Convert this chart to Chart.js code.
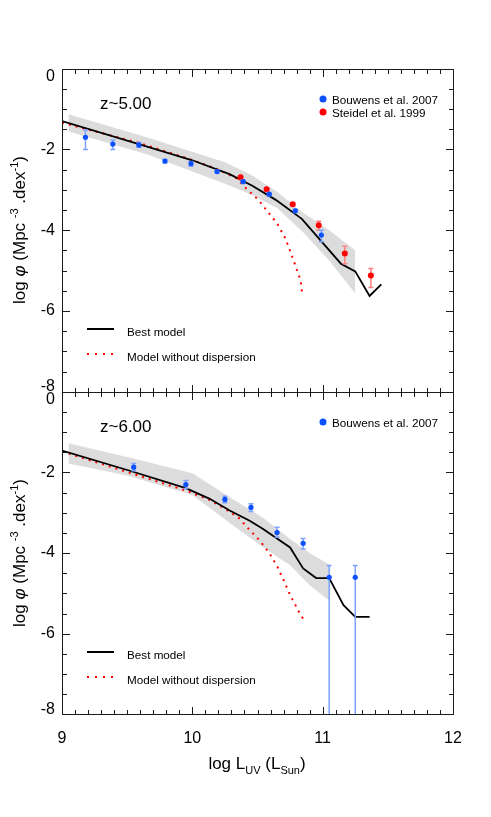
<!DOCTYPE html>
<html>
<head>
<meta charset="utf-8">
<script src="https://cdn.jsdelivr.net/npm/chart.js@4.4.0/dist/chart.umd.min.js"></script>
<style>
  body { margin: 0; background: #fff; font-family: "Liberation Sans", Arial, sans-serif; }
  #wrap { position: relative; width: 491px; height: 817px; overflow: hidden; }
  canvas { position: absolute; left: 0; top: 0; }
  .txt { position: absolute; white-space: nowrap; color: #000; transform: translateY(-50%); }
  .ztag { font-size: 17px; }
  .leg { font-size: 11.7px; }
  .dot { position: absolute; width: 7px; height: 7px; border-radius: 50%; transform: translate(-50%, -50%); }
  .solid { position: absolute; width: 27px; height: 2px; background: #000; transform: translateY(-50%); }
  .dotted { position: absolute; width: 27px; height: 2px; transform: translateY(-50%);
    background: repeating-linear-gradient(to right, #ff0000 0 2px, transparent 2px 8px); }
  .ytitle { position: absolute; white-space: nowrap; font-size: 17px;
    transform: translate(-50%, -50%) rotate(-90deg); }
  .xtitle { position: absolute; white-space: nowrap; font-size: 17px; transform: translate(-50%, -50%); }
  sup, sub { font-size: 11px; }
</style>
</head>
<body>
<div id="wrap">
  <canvas id="top" width="491" height="817"></canvas>
  <canvas id="bottom" width="491" height="817"></canvas>
  <canvas id="axes" width="491" height="817"></canvas>
  <div id="text"></div>
</div>
<script>
const FONT = '"Liberation Sans", Arial, sans-serif';

const xTicks = [9, 10, 11, 12];
const yTicks = [0, -2, -4, -6, -8];

// ---- z ~ 5 panel ----
const z5ModelX = [9.0, 9.57, 10.0, 10.29, 10.46, 10.64, 10.84, 11.14, 11.25, 11.36, 11.45];
const z5ModelY = [-1.30, -1.85, -2.27, -2.62, -2.90, -3.25, -3.72, -4.83, -5.02, -5.63, -5.34];
const z5NoDispX = [9.0, 9.57, 9.96, 10.2, 10.34, 10.42, 10.51, 10.58, 10.65, 10.71, 10.75, 10.79, 10.83, 10.845];
const z5NoDispY = [-1.34, -1.82, -2.22, -2.50, -2.72, -2.99, -3.26, -3.55, -3.83, -4.18, -4.51, -4.87, -5.24, -5.62];
const z5BandX = [9.05, 9.65, 10.25, 10.45, 10.65, 10.85, 11.05, 11.25];
const z5BandHi = [-1.13, -1.70, -2.32, -2.63, -3.05, -3.57, -4.00, -4.50];
const z5BandLo = [-1.56, -2.12, -2.85, -3.12, -3.45, -4.05, -4.75, -5.57];

const z5BouwensX = [9.18, 9.39, 9.59, 9.79, 9.99, 10.19, 10.39, 10.59, 10.79, 10.99];
const z5BouwensY = [-1.70, -1.87, -1.89, -2.29, -2.35, -2.55, -2.80, -3.11, -3.52, -4.12];
const z5BouwensHi = [-1.52, -1.77, -1.83, -2.25, -2.30, -2.51, -2.76, -3.07, -3.48, -4.00];
const z5BouwensLo = [-2.00, -2.00, -1.95, -2.34, -2.42, -2.59, -2.84, -3.15, -3.56, -4.29];

const z5SteidelX = [10.37, 10.57, 10.77, 10.97, 11.17, 11.37];
const z5SteidelY = [-2.69, -2.99, -3.36, -3.88, -4.58, -5.12];
const z5SteidelHi = [-2.65, -2.95, -3.32, -3.78, -4.40, -4.95];
const z5SteidelLo = [-2.73, -3.03, -3.40, -4.00, -4.83, -5.42];

// ---- z ~ 6 panel ----
const z6ModelX = [9.0, 9.52, 9.95, 10.13, 10.29, 10.44, 10.54, 10.75, 10.85, 10.95, 11.05, 11.16, 11.25, 11.36];
const z6ModelY = [-1.46, -1.96, -2.39, -2.65, -2.95, -3.20, -3.40, -3.86, -4.38, -4.62, -4.62, -5.29, -5.58, -5.58];
const z6NoDispX = [9.0, 9.52, 9.95, 10.13, 10.26, 10.36, 10.44, 10.52, 10.59, 10.65, 10.70, 10.75, 10.81, 10.85];
const z6NoDispY = [-1.48, -2.01, -2.45, -2.68, -2.92, -3.14, -3.43, -3.70, -4.00, -4.32, -4.67, -5.04, -5.41, -5.63];
const z6BandX = [9.05, 9.5, 10.0, 10.29, 10.54, 10.75, 10.9, 11.06];
const z6BandHi = [-1.28, -1.62, -2.02, -2.62, -3.12, -3.65, -4.00, -4.30];
const z6BandLo = [-1.78, -2.08, -2.56, -3.26, -3.85, -4.30, -4.80, -5.20];

const z6BouwensX = [9.55, 9.95, 10.25, 10.45, 10.65, 10.85, 11.05, 11.25];
const z6BouwensY = [-1.87, -2.30, -2.67, -2.87, -3.49, -3.76, -4.60, -4.60];
const z6BouwensHi = [-1.78, -2.20, -2.59, -2.78, -3.36, -3.64, -4.31, -4.31];
const z6BouwensLo = [-1.96, -2.40, -2.75, -2.97, -3.61, -3.90, -9.00, -9.00];

const BLUE = '#0a50ff', BLUE_ERR = '#7ea2ff';
const RED = '#ff0000', RED_ERR = '#ff8080';
const BAND = '#dcdcdc';

function xy(xs, ys) { return xs.map((x, i) => ({ x: x, y: ys[i] })); }

// error bars drawn right before the points of a dataset
const errorBars = {
  id: 'errorBars',
  beforeDatasetDraw(chart, args) {
    const ds = chart.data.datasets[args.index];
    if (!ds.errHi) return;
    const { ctx, chartArea: a, scales: { x, y } } = chart;
    ctx.save();
    ctx.beginPath();
    ctx.rect(a.left, a.top, a.right - a.left, a.bottom - a.top);
    ctx.clip();
    ctx.strokeStyle = ds.errColor;
    ctx.lineWidth = 1.5;
    ds.data.forEach((p, i) => {
      const px = x.getPixelForValue(p.x);
      const top = y.getPixelForValue(ds.errHi[i]);
      const bot = y.getPixelForValue(ds.errLo[i]);
      ctx.beginPath();
      ctx.moveTo(px, top); ctx.lineTo(px, bot);
      ctx.moveTo(px - 2.5, top); ctx.lineTo(px + 2.5, top);
      ctx.moveTo(px - 2.5, bot); ctx.lineTo(px + 2.5, bot);
      ctx.stroke();
    });
    ctx.restore();
  }
};

// box with inward ticks on all four sides, drawn on the overlay canvas
// (tick spacing taken straight from the chart area: 0.1 dex in x, 0.5 in y)
function drawFrame(ctx, chart) {
  const a = chart.chartArea;
  const L = Math.round(a.left), R = Math.round(a.right);
  const T = Math.round(a.top), B = Math.round(a.bottom);
  const w = a.right - a.left, h = a.bottom - a.top;
  ctx.save();
  ctx.fillStyle = '#1a1a1a';
  for (let i = 0; i <= 30; i++) {
    const px = Math.round(a.left + w * i / 30);
    const len = i % 10 === 0 ? 8 : 5;
    ctx.fillRect(px, T, 1, len);
    ctx.fillRect(px, B - len + 1, 1, len);
  }
  for (let i = 0; i <= 16; i++) {
    const py = Math.round(a.top + h * i / 16);
    const len = i % 4 === 0 ? 8 : 5;
    ctx.fillRect(L, py, len, 1);
    ctx.fillRect(R - len + 1, py, len, 1);
  }
  ctx.fillRect(L, T, R - L + 1, 1);
  ctx.fillRect(L, B, R - L + 1, 1);
  ctx.fillRect(L, T, 1, B - T + 1);
  ctx.fillRect(R, T, 1, B - T + 1);
  ctx.restore();
}

function makePanel(id, p) {
  const datasets = [
    { label: p.pointsLabel, data: xy(p.bx, p.by), errHi: p.bHi, errLo: p.bLo, errColor: BLUE_ERR,
      showLine: false, pointRadius: 2.6, backgroundColor: BLUE, borderWidth: 0, order: 0 },
    { label: 'Best model', data: xy(p.mx, p.my), showLine: true, borderColor: '#000',
      borderWidth: 1.8, pointRadius: 0, order: 2 },
    { label: 'Model without dispersion', data: xy(p.nx, p.ny), showLine: true, borderColor: RED,
      borderWidth: 2, borderDash: [2, 5], pointRadius: 0, order: 3 },
    { label: 'band upper', data: xy(p.bandX, p.bandHi), showLine: true, borderWidth: 0,
      pointRadius: 0, fill: '+1', backgroundColor: BAND, order: 4 },
    { label: 'band lower', data: xy(p.bandX, p.bandLo), showLine: true, borderWidth: 0,
      pointRadius: 0, fill: false, order: 5 }
  ];
  if (p.sx) {
    datasets.push({ label: 'Steidel et al. 1999', data: xy(p.sx, p.sy), errHi: p.sHi, errLo: p.sLo,
      errColor: RED_ERR, showLine: false, pointRadius: 3, backgroundColor: RED, borderWidth: 0, order: 1 });
  }
  return new Chart(document.getElementById(id), {
    type: 'scatter',
    data: { datasets: datasets },
    plugins: [errorBars],
    options: {
      responsive: false,
      animation: false,
      devicePixelRatio: 1,
      events: [],
      layout: { padding: p.pad },
      plugins: { legend: { display: false }, tooltip: { enabled: false } },
      scales: {
        x: {
          type: 'linear', min: 9, max: 12,
          afterBuildTicks: (s) => { s.ticks = xTicks.map(v => ({ value: v })); },
          grid: { display: false, drawTicks: false },
          border: { display: false },
          ticks: { display: p.xLabels, padding: 15, color: '#000', font: { family: FONT, size: 16 } },
          afterFit: (s) => { s.height = p.xHeight; }
        },
        y: {
          type: 'linear', min: -8, max: 0,
          afterBuildTicks: (s) => { s.ticks = yTicks.map(v => ({ value: v })); },
          grid: { display: false, drawTicks: false },
          border: { display: false },
          ticks: {
            padding: 7, color: '#000',
            font: (c) => ({ family: FONT, size: 16,
              lineHeight: c.tick && c.tick.value === -8 ? 0.6 : 1.0 }),
            callback: (v) => v === 0 ? ['', '0'] : v === -8 ? ['-8', ''] : String(v)
          },
          afterFit: (s) => { s.width = 62; }
        }
      }
    }
  });
}

const topChart = makePanel('top', {
  pad: { left: 0, right: 38, top: 68.6, bottom: 425.3 }, xLabels: false, xHeight: 0,
  pointsLabel: 'Bouwens et al. 2007',
  bx: z5BouwensX, by: z5BouwensY, bHi: z5BouwensHi, bLo: z5BouwensLo,
  sx: z5SteidelX, sy: z5SteidelY, sHi: z5SteidelHi, sLo: z5SteidelLo,
  mx: z5ModelX, my: z5ModelY, nx: z5NoDispX, ny: z5NoDispY,
  bandX: z5BandX, bandHi: z5BandHi, bandLo: z5BandLo
});

const bottomChart = makePanel('bottom', {
  pad: { left: 0, right: 38, top: 391.7, bottom: 0 }, xLabels: true, xHeight: 102.6,
  pointsLabel: 'Bouwens et al. 2007',
  bx: z6BouwensX, by: z6BouwensY, bHi: z6BouwensHi, bLo: z6BouwensLo,
  mx: z6ModelX, my: z6ModelY, nx: z6NoDispX, ny: z6NoDispY,
  bandX: z6BandX, bandHi: z6BandHi, bandLo: z6BandLo
});

const axesCtx = document.getElementById('axes').getContext('2d');
drawFrame(axesCtx, topChart);
drawFrame(axesCtx, bottomChart);

// text overlays: panel tags, legends, axis titles
const yTitle = 'log <i>φ</i> (Mpc <sup>-3</sup> .dex<sup>-1</sup>)';
let html = '';
[[104, 'z~5.00', 0], [426.7, 'z~6.00', 323.1]].forEach(([ty, tag, off]) => {
  html += `<div class="txt ztag" style="left:100px;top:${ty}px">${tag}</div>`;
  html += `<div class="solid" style="left:87px;top:${329 + off}px"></div>`;
  html += `<div class="txt leg" style="left:127px;top:${331 + off}px">Best model</div>`;
  html += `<div class="dotted" style="left:87px;top:${354 + off}px"></div>`;
  html += `<div class="txt leg" style="left:127px;top:${355.5 + off}px">Model without dispersion</div>`;
  html += `<div class="dot" style="left:323px;top:${99 + off}px;background:${BLUE}"></div>`;
  html += `<div class="txt leg" style="left:332px;top:${99 + off}px">Bouwens et al. 2007</div>`;
  html += `<div class="ytitle" style="left:19px;top:${230 + off}px">${yTitle}</div>`;
});
html += `<div class="dot" style="left:323px;top:112px;background:${RED}"></div>`;
html += `<div class="txt leg" style="left:332px;top:112px">Steidel et al. 1999</div>`;
html += `<div class="xtitle" style="left:257px;top:765px">log L<sub>UV</sub> (L<sub>Sun</sub>)</div>`;
document.getElementById('text').innerHTML = html;
</script>
</body>
</html>
